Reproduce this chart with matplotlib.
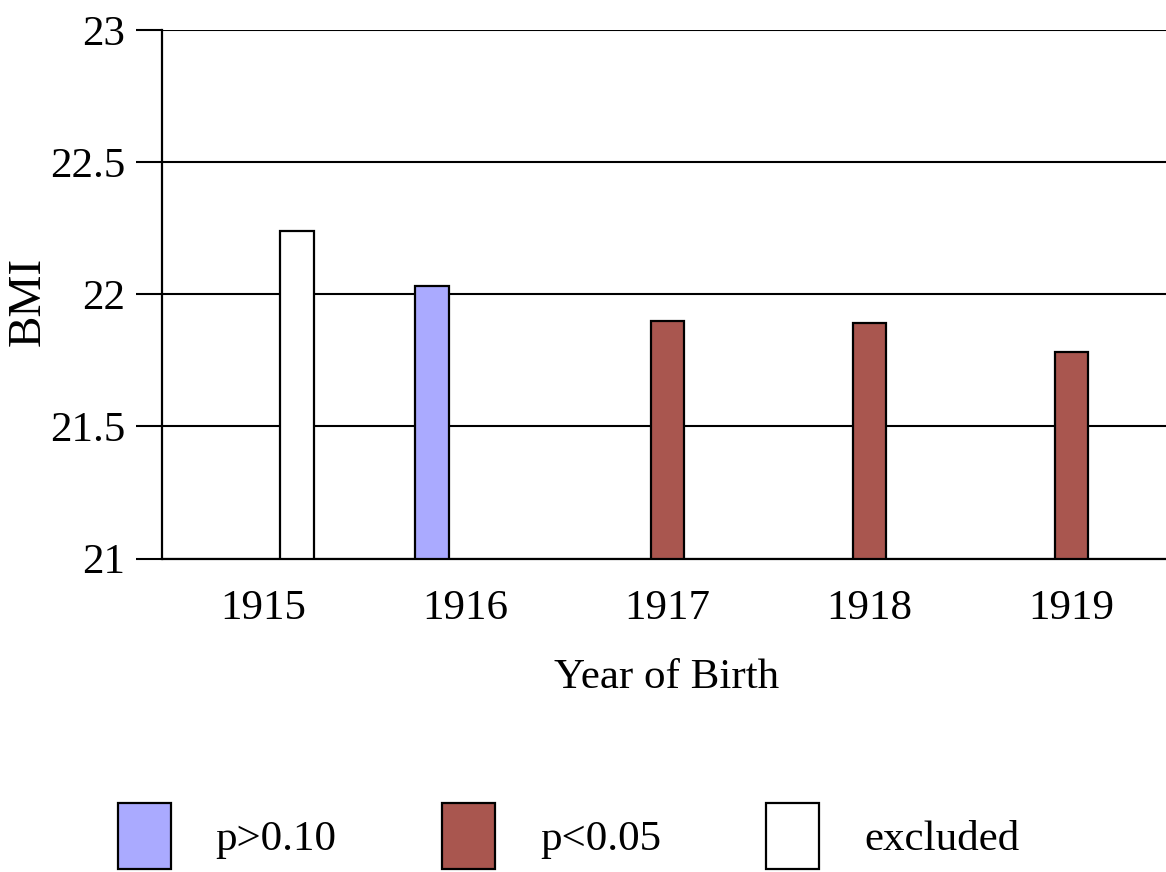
import numpy as np
import matplotlib
matplotlib.use("Agg")
import matplotlib.pyplot as plt
from matplotlib.patches import Patch

# values
years = ["1915", "1916", "1917", "1918", "1919"]
p_gt_010 = [np.nan, 22.03, np.nan, np.nan, np.nan]
p_lt_005 = [np.nan, np.nan, 21.90, 21.89, 21.78]
excluded = [22.24, np.nan, np.nan, np.nan, np.nan]
series_names = ["p>0.10", "p<0.05", "excluded"]
series_colors = ["#aaaaff", "#a9564f", "#ffffff"]
y_ticks = [21, 21.5, 22, 22.5, 23]
y_ticklabels = ["21", "21.5", "22", "22.5", "23"]

plt.rcParams["font.family"] = ["Liberation Serif", "DejaVu Serif"]

W, H = 1166, 872
fig = plt.figure(figsize=(W / 100, H / 100), dpi=100)
ax = fig.add_axes([162.5 / W, 1 - 558.5 / H, 1010 / W, 528.5 / H])

x = np.arange(len(years))
bw = 0.168
series = [p_gt_010, p_lt_005, excluded]
offsets = [-bw, 0, bw]
for vals, off, col in zip(series, offsets, series_colors):
    ax.bar(x + off, np.array(vals) - 21, bw, bottom=21, color=col,
           edgecolor="black", linewidth=1.6, zorder=3)

ax.set_xlim(-0.5, len(years) - 0.5)
ax.set_ylim(21, 23)
ax.set_yticks(y_ticks)
ax.set_yticklabels(y_ticklabels)
ax.set_xticks(x)
ax.set_xticklabels(years)
ax.tick_params(axis="y", length=19, width=1.5, pad=8, labelsize=31)
ax.tick_params(axis="x", length=0, pad=22, labelsize=31)
ax.yaxis.grid(True, color="black", linewidth=1.5, zorder=0)
ax.set_axisbelow(True)
for side in ["top", "right"]:
    ax.spines[side].set_visible(False)
ax.spines["left"].set_linewidth(1.6)
ax.spines["bottom"].set_linewidth(1.6)

ax.set_xlabel("Year of Birth", fontsize=31)
ax.set_ylabel("BMI", fontsize=34)
ax.xaxis.set_label_coords((667 - 162.5) / 1010, -0.19)
ax.yaxis.set_label_coords((50 - 162.5) / 1010, 1 - (301 - 30) / 528.5)

handles = [Patch(facecolor=c, edgecolor="black", linewidth=1.6) for c in series_colors]
fig.legend(handles, series_names, loc="center left", ncol=3, frameon=False,
           bbox_to_anchor=(118 / W, 1 - 836 / H), borderaxespad=0, borderpad=0,
           fontsize=31, handlelength=1.22, handleheight=1.95,
           handletextpad=1.05, columnspacing=2.45)

fig.savefig("out.png", dpi=100)
